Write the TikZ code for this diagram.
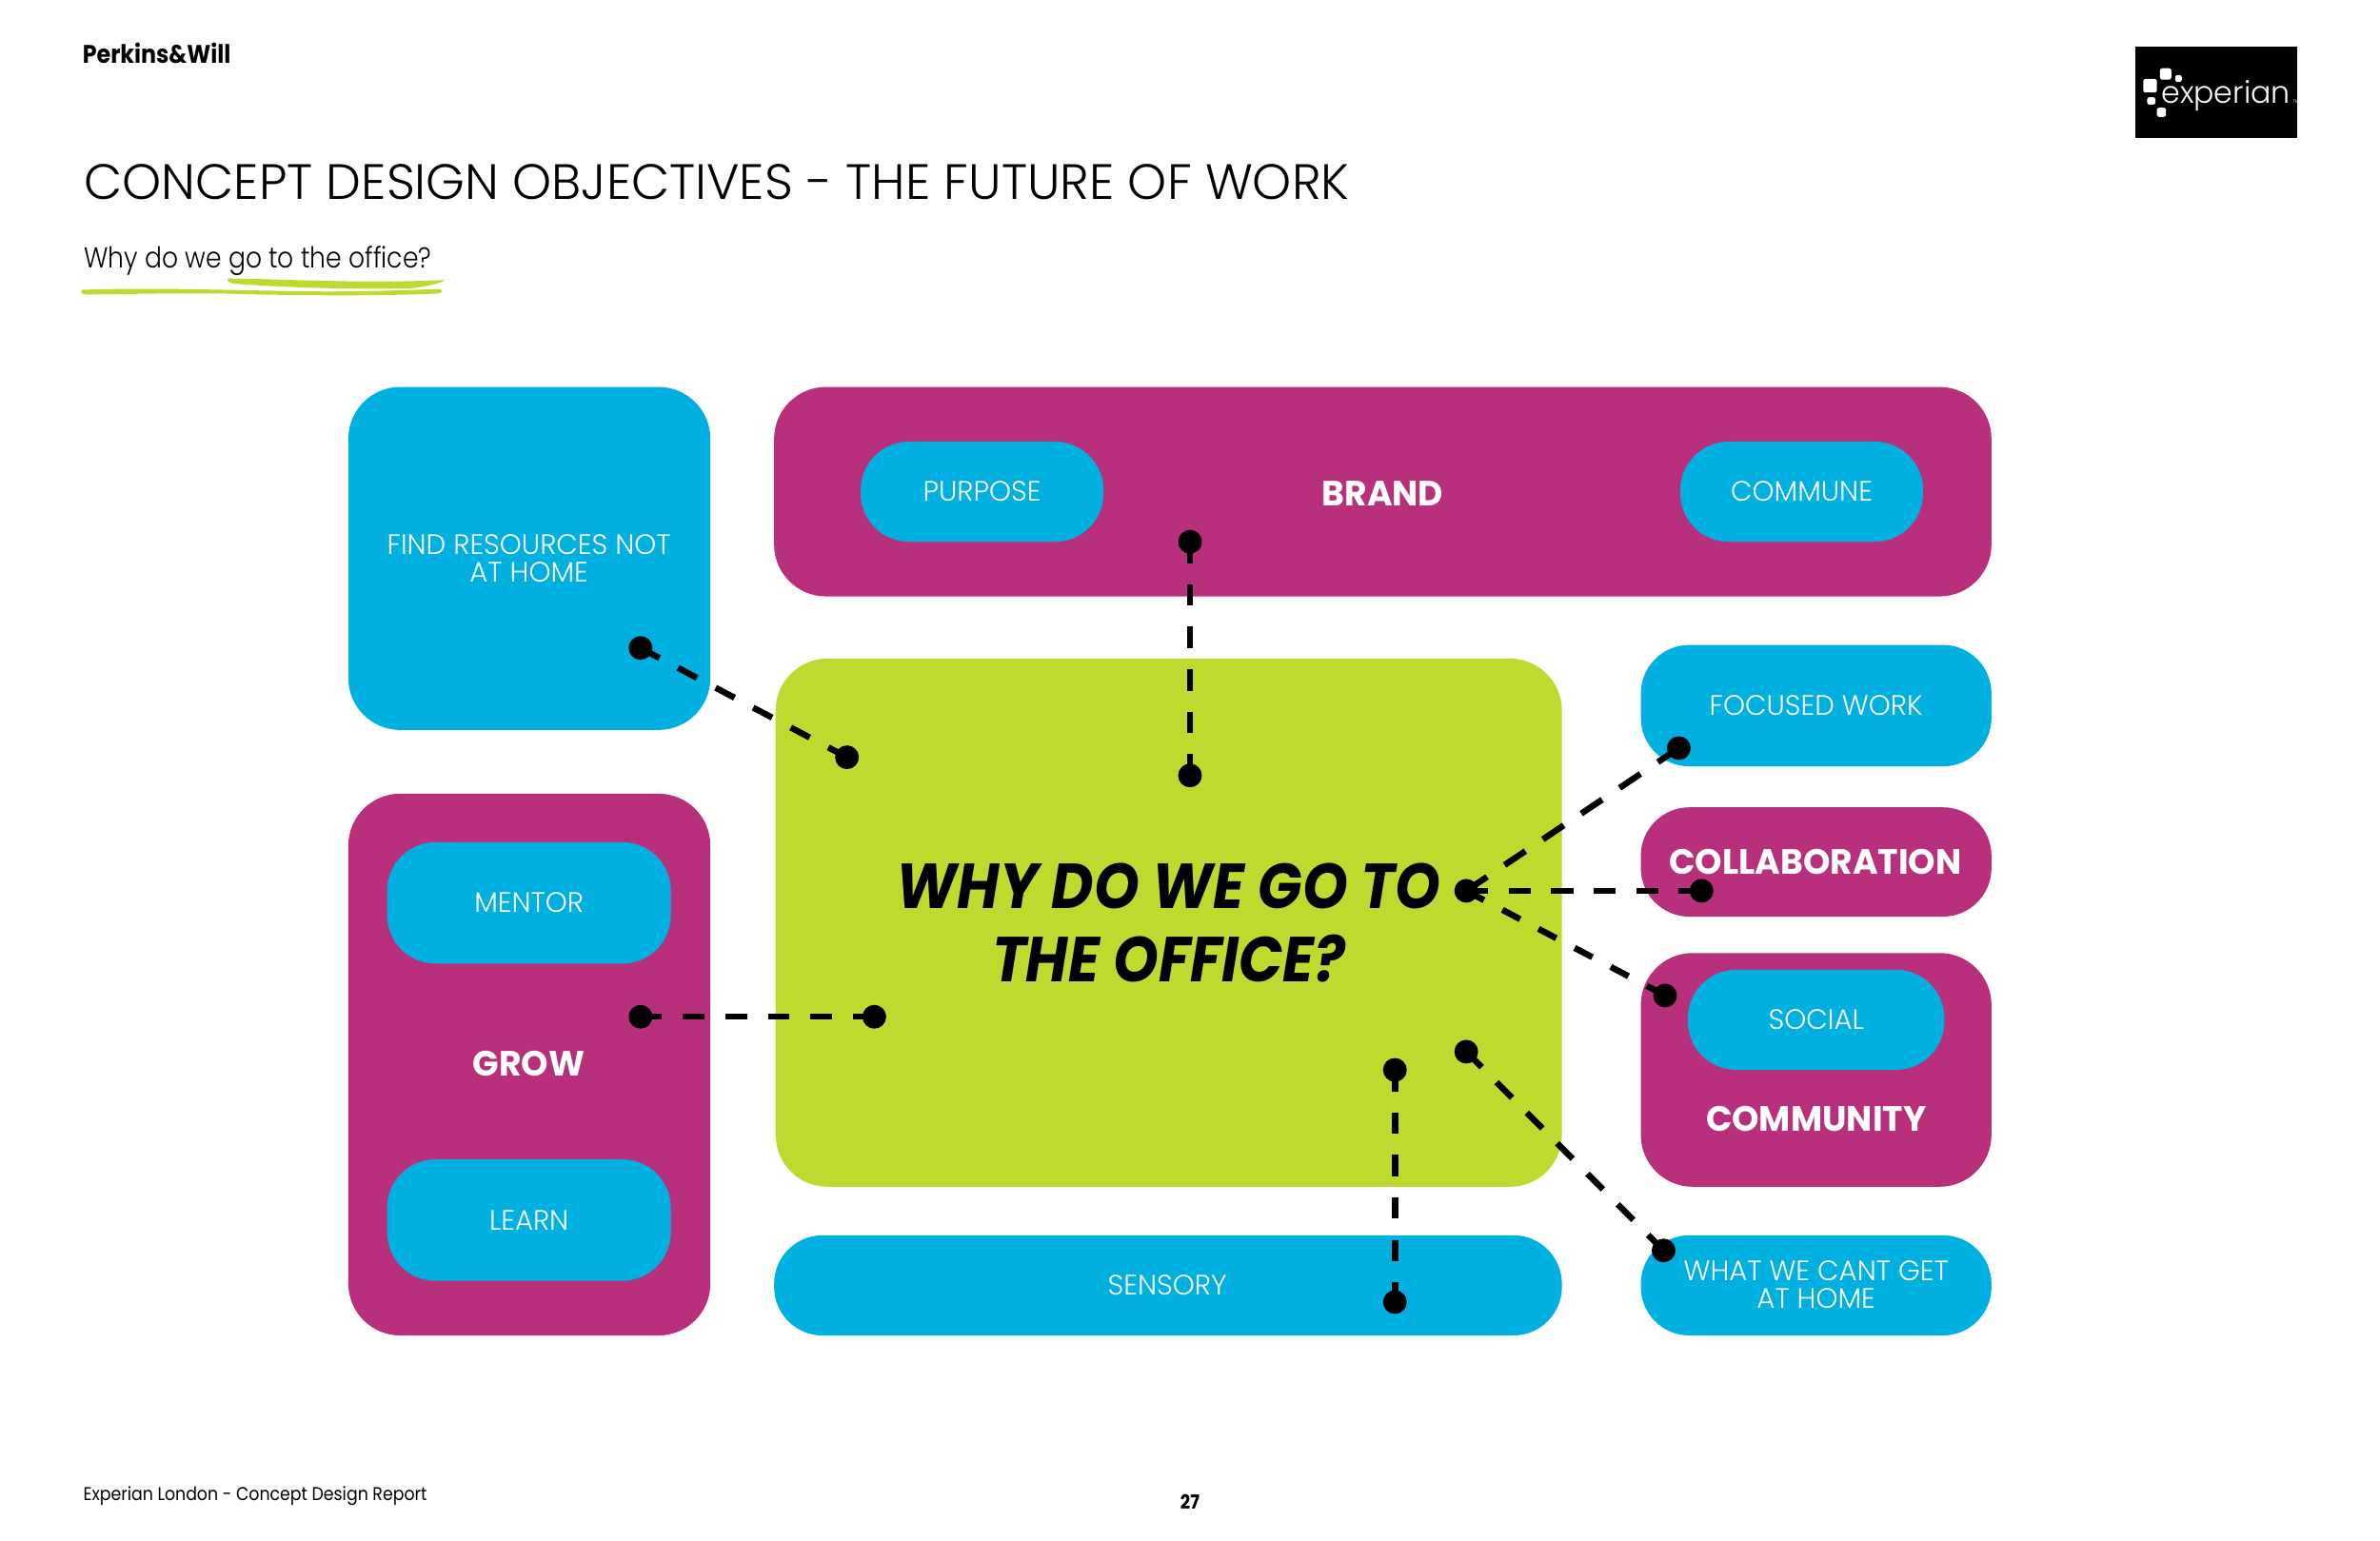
\documentclass[tikz,border=0pt]{standalone}
\usepackage{fontspec}
\setmainfont{Poppins}
\newfontfamily\lightf{Poppins Light}[FakeStretch=0.99]
\newfontfamily\titlef{Poppins Light}[FakeStretch=1.0]
\newfontfamily\subf{Poppins Light}[FakeStretch=0.88]
\newfontfamily\regf{Poppins}[FakeStretch=0.98]
\newfontfamily\mainf{Poppins}[FakeStretch=0.91]
\newfontfamily\smallf{Poppins}[FakeStretch=0.89]
\definecolor{cyanb}{HTML}{00B0E0}
\definecolor{magb}{HTML}{B8307C}
\definecolor{limeb}{HTML}{BFD92E}
\tikzset{
  x=0.015944cm,y=-0.015944cm,
  panel/.style={fill=#1,draw=none,rounded corners=15.5pt},
  pill/.style={fill=#1,draw=none,rounded corners=14.5pt},
  lab/.style={text=white,align=center,font=\lightf\fontsize{8.4}{8}\selectfont,inner sep=0pt},
  head/.style={text=white,align=center,font=\regf\bfseries\fontsize{10.5}{12}\selectfont,inner sep=0pt},
  dotn/.style={circle,fill=black,draw=none,minimum size=7.1pt,inner sep=0pt},
  link/.style 2 args={draw=black,line width=1.85pt,dash pattern=on #1pt off #2pt},
  plain/.style={inner sep=0pt,text=black},
  sq/.style={fill=white,draw=none,rounded corners=0.7pt}
}
\begin{document}
\begin{tikzpicture}
\useasboundingbox (0,0) rectangle (1568,1015);
\fill[white] (0,0) rectangle (1568,1015);
% header
\node[plain,anchor=west,font=\smallf\fontsize{7.6}{10}\selectfont\bfseries] (pw) at (54,35) {Perkins\&Will};
\node[plain,anchor=west,font=\titlef\fontsize{14.85}{16}\selectfont] (title) at (55,120) {CONCEPT DESIGN OBJECTIVES - THE FUTURE OF WORK};
\node[plain,anchor=west,font=\subf\fontsize{8.6}{10}\selectfont] (sub) at (55,172) {Why do we go to the office?};
\fill[limeb] (54,191) .. controls (100,189.5) and (140,191) .. (200,192) .. controls (240,192.5) and (270,191) .. (290,190.5) .. controls (292,192) and (291,193) .. (288,193.5) .. controls (250,195) and (200,195) .. (150,193.5) .. controls (110,193) and (80,194) .. (56,194) .. controls (53,193.5) and (53,191.5) .. (54,191) -- cycle;
\fill[limeb] (151,183.5) .. controls (190,184) and (240,187) .. (293,184.5) .. controls (290,187) and (280,189) .. (270,190) .. controls (230,191) and (180,189) .. (155,187) .. controls (149,186) and (149,184) .. (151,183.5) -- cycle;
% logo
\fill[black] (1406.5,30.5) rectangle (1513.5,91);
\fill[sq] (1412,52) rectangle (1421,61);
\fill[sq] (1423,45) rectangle (1430.5,52.5);
\fill[sq] (1433,49.5) rectangle (1437.5,54);
\fill[sq] (1414.6,64) rectangle (1420,69);
\fill[sq] (1421,71) rectangle (1427,77);
\node[inner sep=0pt,text=white,anchor=base west,font=\lightf\fontsize{9.1}{12}\selectfont] (logo) at (1423.5,68) {experian};
\node[inner sep=0pt,text=white,anchor=base west,font=\lightf\fontsize{1.4}{2}\selectfont] (tm) at (1510,68) {TM};
% panels
\path[panel=cyanb] (229.5,255) rectangle (468,481);
\path[panel=magb] (510,255) rectangle (1312,393);
\path[panel=limeb] (511,434) rectangle (1029,782);
\path[panel=magb] (229.5,523) rectangle (468,880);
\path[panel=magb] (1081,628) rectangle (1312,782);
\path[pill=magb] (1081,532) rectangle (1312,604);
\path[pill=cyanb] (1081,425) rectangle (1312,505);
\path[pill=cyanb] (1081,814) rectangle (1312,880);
\path[pill=cyanb] (510,814) rectangle (1029,880);
\path[pill=cyanb] (567,291) rectangle (727,357);
\path[pill=cyanb] (1107,291) rectangle (1267,357);
\path[pill=cyanb] (255,555) rectangle (442,635);
\path[pill=cyanb] (255,764) rectangle (442,844);
\path[pill=cyanb] (1112,639) rectangle (1281,705);
% labels
\node[lab] (find) at (348.5,368) {FIND RESOURCES NOT\\AT HOME};
\node[lab] (purpose) at (647,324) {PURPOSE};
\node[head] (brand) at (911,325) {BRAND};
\node[lab] (commune) at (1187,324) {COMMUNE};
\node[lab] (mentor) at (348.5,595) {MENTOR};
\node[head] (grow) at (348.5,701) {GROW};
\node[lab] (learn) at (348.5,804) {LEARN};
\node[lab] (sensory) at (769,847) {SENSORY};
\node[lab] (focused) at (1196.5,465) {FOCUSED WORK};
\node[head] (collab) at (1196,568) {COLLABORATION};
\node[lab] (social) at (1196.5,672) {SOCIAL};
\node[head] (community) at (1196.5,737) {COMMUNITY};
\node[lab] (cant) at (1196.5,846.5) {WHAT WE CANT GET\\AT HOME};
\node[plain,align=center,font=\mainf\bfseries\itshape\fontsize{19}{21.7}\selectfont] (main) at (770,608) {WHY DO WE GO TO\\THE OFFICE?};
% footer
\node[plain,anchor=west,font=\smallf\fontsize{5.55}{7}\selectfont] (foot) at (54.5,986) {Experian London - Concept Design Report};
\node[plain,font=\smallf\bfseries\fontsize{5.8}{7}\selectfont] (page) at (784,989.5) {27};
% connector dots
\node[dotn] (a1) at (422,427) {};
\node[dotn] (a2) at (558,499) {};
\node[dotn] (b1) at (784,357) {};
\node[dotn] (b2) at (784,511) {};
\node[dotn] (c1) at (422,670) {};
\node[dotn] (c2) at (576,670) {};
\node[dotn] (d1) at (919,705) {};
\node[dotn] (d2) at (919,858) {};
\node[dotn] (e1) at (966,693) {};
\node[dotn] (e2) at (1096,824) {};
\node[dotn] (hub) at (966,587) {};
\node[dotn] (f1) at (1106,493) {};
\node[dotn] (f2) at (1121,587) {};
\node[dotn] (f3) at (1097,656) {};
% connectors
\draw[link={6.4}{6.3}] (a1.center) -- (a2.center);
\draw[link={6.4}{6.3}] (b1.center) -- (b2.center);
\draw[link={6.4}{6.3}] (c1.center) -- (c2.center);
\draw[link={6.4}{6.3}] (d1.center) -- (d2.center);
\draw[link={6.56}{6.3}] (e1.center) -- (e2.center);
\draw[link={7.5}{6.3}] (hub.center) -- (f1.center);
\draw[link={6.6}{6.1}] (hub.center) -- (f2.center);
\draw[link={6.0}{6.2}] (hub.center) -- (f3.center);
\end{tikzpicture}
\end{document}
